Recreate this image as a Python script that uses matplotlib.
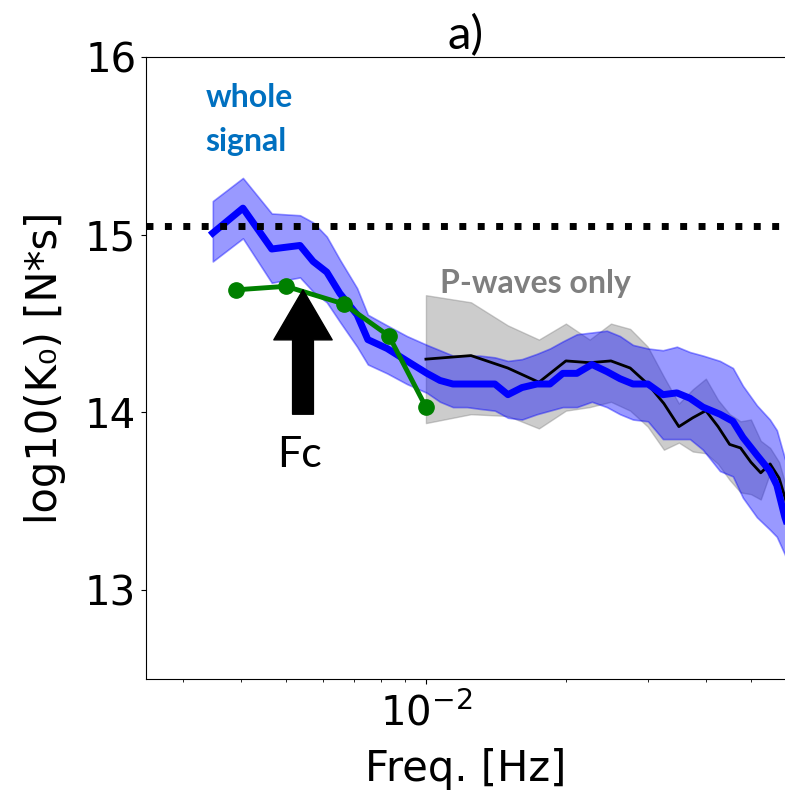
import numpy as np
import matplotlib
matplotlib.use("Agg")
import matplotlib.pyplot as plt
from matplotlib.ticker import LogLocator, NullFormatter, FixedLocator

# whole signal (blue): frequency [Hz], log10(K0) mean and band
blue_freq = [0.00348, 0.00404, 0.00466, 0.00536, 0.00572, 0.00612, 0.00653, 0.00711,
             0.00750, 0.00825, 0.00910, 0.01005, 0.01072, 0.01143, 0.01225, 0.01306,
             0.01407, 0.01501, 0.01609, 0.01733, 0.01848, 0.01970, 0.02112, 0.02275,
             0.02450, 0.02614, 0.02788, 0.03002, 0.03234, 0.03466, 0.03696, 0.03942,
             0.04289, 0.04574, 0.04805, 0.05150, 0.05493, 0.05685, 0.05916, 0.06374]
blue_mean = [15.01, 15.15, 14.92, 14.94, 14.85, 14.79, 14.67, 14.55, 14.41, 14.36,
             14.29, 14.22, 14.18, 14.16, 14.16, 14.16, 14.16, 14.10, 14.14, 14.16,
             14.16, 14.22, 14.22, 14.27, 14.23, 14.19, 14.16, 14.16, 14.10, 14.11,
             14.08, 14.03, 13.99, 13.95, 13.86, 13.76, 13.67, 13.59, 13.41, 13.16]
blue_hi = [15.19, 15.32, 15.12, 15.11, 15.07, 14.99, 14.86, 14.70, 14.55, 14.49,
           14.43, 14.38, 14.35, 14.32, 14.32, 14.32, 14.31, 14.29, 14.30, 14.33,
           14.36, 14.40, 14.44, 14.45, 14.46, 14.43, 14.38, 14.36, 14.35, 14.37,
           14.34, 14.32, 14.29, 14.25, 14.15, 14.04, 13.96, 13.90, 13.74, 13.50]
blue_lo = [14.85, 14.98, 14.73, 14.76, 14.68, 14.62, 14.51, 14.37, 14.27, 14.22,
           14.16, 14.11, 14.06, 14.03, 14.03, 14.02, 14.01, 13.97, 13.96, 13.99,
           14.01, 14.03, 14.03, 14.06, 14.03, 13.99, 13.96, 13.95, 13.85, 13.85,
           13.85, 13.79, 13.67, 13.64, 13.52, 13.41, 13.34, 13.30, 13.20, 12.93]

# P-waves only (black line, gray band)
p_freq = [0.01, 0.0125, 0.015, 0.0175, 0.02, 0.0225, 0.025, 0.0275, 0.03, 0.0325, 0.035,
          0.0375, 0.04, 0.0425, 0.045, 0.0475, 0.05, 0.0525, 0.055, 0.0575, 0.06]
p_mean = [14.30, 14.32, 14.25, 14.17, 14.29, 14.28, 14.29, 14.25, 14.16, 14.05, 13.92,
          13.97, 14.01, 13.92, 13.82, 13.80, 13.72, 13.66, 13.71, 13.63, 13.47]
p_hi = [14.66, 14.62, 14.49, 14.41, 14.50, 14.41, 14.50, 14.47, 14.37, 14.20, 14.05,
        14.13, 14.19, 14.07, 13.99, 13.95, 13.96, 13.84, 13.80, 13.72, 13.55]
p_lo = [13.94, 13.99, 13.98, 13.91, 14.01, 14.03, 14.06, 14.01, 13.92, 13.79, 13.83,
        13.78, 13.77, 13.71, 13.62, 13.55, 13.54, 13.51, 13.66, 13.55, 13.38]

# green points
g_freq = [0.0039, 0.005, 0.00667, 0.00833, 0.01]
g_val = [14.69, 14.71, 14.61, 14.43, 14.03]

ref_level = 15.05
fc_freq = 0.00544
fc_top, fc_bottom = 14.69, 13.99

fig = plt.figure(figsize=(7.85, 7.94), dpi=100)
ax = fig.add_axes([0.186, 0.145, 0.814, 0.783])

ax.fill_between(p_freq, p_lo, p_hi, color="gray", alpha=0.4, lw=1)
ax.plot(p_freq, p_mean, color="black", lw=2)
ax.fill_between(blue_freq, blue_lo, blue_hi, color="blue", alpha=0.4, lw=1.2)
ax.plot(blue_freq, blue_mean, color="blue", lw=5)
ax.plot(g_freq, g_val, color="green", lw=3.5, marker="o", ms=11)
ax.axhline(ref_level, color="black", ls=":", lw=5)

ax.annotate("", xy=(fc_freq, fc_top), xytext=(fc_freq, fc_bottom),
            arrowprops=dict(arrowstyle="simple,head_length=3.6,head_width=4.2,tail_width=1.5",
                            color="black", mutation_scale=10, shrinkA=0, shrinkB=0))

ann_font = ["Lato", "DejaVu Sans"]
ax.text(0.00535, 13.69, "Fc", fontsize=31, family=ann_font, ha="center", va="baseline")
ax.text(0.00336, 15.72, "whole", fontsize=23, family=ann_font, weight="bold",
        color="#0070C0", va="baseline")
ax.text(0.00336, 15.47, "signal", fontsize=23, family=ann_font, weight="bold",
        color="#0070C0", va="baseline")
ax.text(0.01072, 14.67, "P-waves only", fontsize=23, family=ann_font, weight="bold",
        color="#7F7F7F", va="baseline")

ax.set_xscale("log")
ax.set_xlim(0.0025, 0.0592)
ax.set_ylim(12.5, 16)
ax.set_yticks([13, 14, 15, 16])
ax.xaxis.set_major_locator(FixedLocator([0.01]))
ax.xaxis.set_minor_locator(LogLocator(base=10, subs=np.arange(2, 10)))
ax.xaxis.set_minor_formatter(NullFormatter())
ax.tick_params(labelsize=29)
ax.tick_params(axis="x", pad=7)
ax.spines["right"].set_visible(False)

ax.set_xlabel("Freq. [Hz]", fontsize=30, labelpad=10)
ax.set_ylabel("log10(K\u2080) [N*s]", fontsize=30, labelpad=14)
ax.set_title("a)", fontsize=34, family=ann_font, pad=4)

fig.savefig("out.png", dpi=100)
